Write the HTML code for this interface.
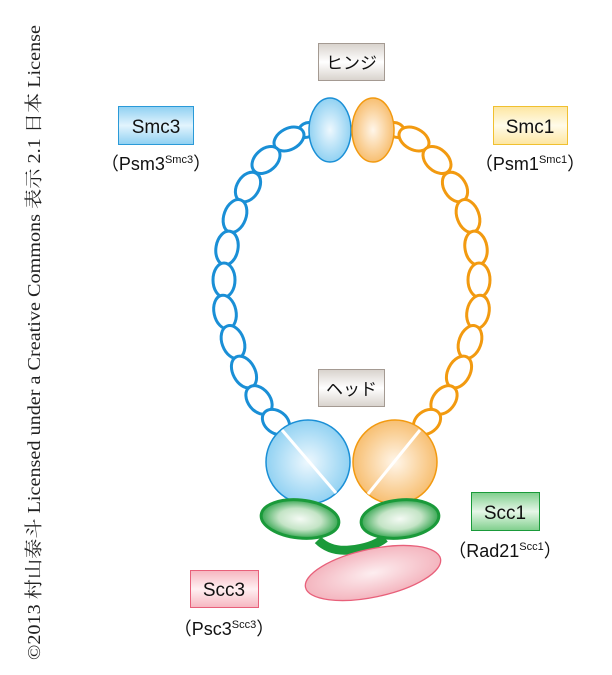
<!DOCTYPE html>
<html><head><meta charset="utf-8"><style>
body{margin:0;background:#fff;}
svg{display:block;}
text{font-family:"Liberation Sans","Noto Sans CJK JP",sans-serif;}
</style></head><body>
<svg width="612" height="675" viewBox="0 0 612 675" xmlns="http://www.w3.org/2000/svg">
<defs>
<radialGradient id="gb" cx="50%" cy="50%" r="60%"><stop offset="0" stop-color="#eef8fe"/><stop offset="1" stop-color="#7fcaf0"/></radialGradient>
<radialGradient id="go" cx="50%" cy="50%" r="60%"><stop offset="0" stop-color="#fff6ea"/><stop offset="1" stop-color="#f6b45a"/></radialGradient>
<radialGradient id="gg" cx="50%" cy="50%" r="55%"><stop offset="0" stop-color="#f4faf4"/><stop offset="0.5" stop-color="#c4e4c6"/><stop offset="1" stop-color="#1a9a3a"/></radialGradient>
<radialGradient id="gp" cx="50%" cy="50%" r="60%"><stop offset="0" stop-color="#fdeef0"/><stop offset="1" stop-color="#f2aab5"/></radialGradient>
<linearGradient id="lgray" x1="0" y1="0" x2="0" y2="1"><stop offset="0" stop-color="#d8d2cc"/><stop offset="0.5" stop-color="#ffffff"/><stop offset="1" stop-color="#d8d2cc"/></linearGradient>
<linearGradient id="lblue" x1="0" y1="0" x2="0" y2="1"><stop offset="0" stop-color="#8fd0f2"/><stop offset="0.5" stop-color="#e2f4fd"/><stop offset="1" stop-color="#8fd0f2"/></linearGradient>
<linearGradient id="lyel" x1="0" y1="0" x2="0" y2="1"><stop offset="0" stop-color="#fde6a0"/><stop offset="0.5" stop-color="#fffbea"/><stop offset="1" stop-color="#fde6a0"/></linearGradient>
<linearGradient id="lgrn" x1="0" y1="0" x2="0" y2="1"><stop offset="0" stop-color="#7fcf8c"/><stop offset="0.5" stop-color="#e6f6e8"/><stop offset="1" stop-color="#7fcf8c"/></linearGradient>
<linearGradient id="lpnk" x1="0" y1="0" x2="0" y2="1"><stop offset="0" stop-color="#f6b6c0"/><stop offset="0.5" stop-color="#fff0f2"/><stop offset="1" stop-color="#f6b6c0"/></linearGradient>
<g id="chain" fill="#fff" stroke-width="3">
<ellipse cx="307" cy="130" rx="9" ry="7" transform="rotate(-30 307 130)"/>
<ellipse cx="289" cy="139" rx="16" ry="10.5" transform="rotate(-28 289 139)"/>
<ellipse cx="266" cy="160" rx="16" ry="11" transform="rotate(-42 266 160)"/>
<ellipse cx="248" cy="187" rx="16" ry="11" transform="rotate(-58 248 187)"/>
<ellipse cx="235" cy="216" rx="17" ry="11" transform="rotate(-70 235 216)"/>
<ellipse cx="227" cy="248" rx="17" ry="11" transform="rotate(-80 227 248)"/>
<ellipse cx="224" cy="280" rx="17" ry="11" transform="rotate(90 224 280)"/>
<ellipse cx="225" cy="312" rx="17" ry="11" transform="rotate(78 225 312)"/>
<ellipse cx="233" cy="342" rx="17" ry="11" transform="rotate(70 233 342)"/>
<ellipse cx="244" cy="372" rx="17" ry="11" transform="rotate(62 244 372)"/>
<ellipse cx="259" cy="400" rx="16" ry="11" transform="rotate(52 259 400)"/>
<ellipse cx="276" cy="422" rx="15" ry="11" transform="rotate(38 276 422)"/>
</g>
</defs>
<text transform="translate(40,660) rotate(-90)" style="font-family:'Liberation Serif','Noto Serif CJK SC',serif" font-size="18" fill="#222" textLength="635" lengthAdjust="spacingAndGlyphs">©2013 村山泰斗 Licensed under a Creative Commons 表示 2.1 日本 License</text>

<use href="#chain" stroke="#1a8fd6"/>
<g transform="translate(703,0) scale(-1,1)"><use href="#chain" stroke="#f29a10"/></g>

<ellipse cx="330" cy="130" rx="21" ry="32" fill="url(#gb)" stroke="#1a8fd6" stroke-width="1.5"/>
<ellipse cx="373" cy="130" rx="21" ry="32" fill="url(#go)" stroke="#f29a10" stroke-width="1.5"/>

<path d="M318 540 Q330 552 350 550 Q372 548 385 538" fill="none" stroke="#1a9a3a" stroke-width="9"/>
<circle cx="308" cy="462" r="42" fill="url(#gb)" stroke="#1a8fd6" stroke-width="1.5"/>
<line x1="282" y1="430" x2="336" y2="493" stroke="#fff" stroke-width="3"/>
<circle cx="395" cy="462" r="42" fill="url(#go)" stroke="#f29a10" stroke-width="1.5"/>
<line x1="420" y1="430" x2="368" y2="494" stroke="#fff" stroke-width="3"/>
<ellipse cx="300" cy="519" rx="39" ry="19" fill="url(#gg)" stroke="#1a9a3a" stroke-width="3" transform="rotate(6 300 519)"/>
<ellipse cx="400" cy="519" rx="39" ry="19" fill="url(#gg)" stroke="#1a9a3a" stroke-width="3" transform="rotate(-6 400 519)"/>
<ellipse cx="373" cy="573" rx="69" ry="24" fill="url(#gp)" stroke="#e8607a" stroke-width="1.3" transform="rotate(-12 373 573)"/>

<rect x="318.5" y="43.5" width="66" height="37" fill="url(#lgray)" stroke="#a49a92"/>
<text x="351.5" y="69" font-size="17" text-anchor="middle" fill="#111">ヒンジ</text>
<rect x="318.5" y="369.5" width="66" height="37" fill="url(#lgray)" stroke="#a49a92"/>
<text x="351.5" y="395" font-size="17" text-anchor="middle" fill="#111">ヘッド</text>

<rect x="118.5" y="106.5" width="75" height="38" fill="url(#lblue)" stroke="#2a9ad8"/>
<text x="156" y="133" font-size="19" text-anchor="middle" fill="#111">Smc3</text>
<text x="156" y="170" font-size="18" text-anchor="middle" fill="#111">（Psm3<tspan font-size="11" dy="-7">Smc3</tspan><tspan dy="7">）</tspan></text>

<rect x="493.5" y="106.5" width="74" height="38" fill="url(#lyel)" stroke="#f0c030"/>
<text x="530" y="133" font-size="19" text-anchor="middle" fill="#111">Smc1</text>
<text x="530" y="170" font-size="18" text-anchor="middle" fill="#111">（Psm1<tspan font-size="11" dy="-7">Smc1</tspan><tspan dy="7">）</tspan></text>

<rect x="471.5" y="492.5" width="68" height="38" fill="url(#lgrn)" stroke="#1a9a3a"/>
<text x="505" y="519" font-size="19" text-anchor="middle" fill="#111">Scc1</text>
<text x="505" y="557" font-size="18" text-anchor="middle" fill="#111">（Rad21<tspan font-size="11" dy="-7">Scc1</tspan><tspan dy="7">）</tspan></text>

<rect x="190.5" y="570.5" width="68" height="37" fill="url(#lpnk)" stroke="#e8607a"/>
<text x="224" y="596" font-size="19" text-anchor="middle" fill="#111">Scc3</text>
<text x="224" y="635" font-size="18" text-anchor="middle" fill="#111">（Psc3<tspan font-size="11" dy="-7">Scc3</tspan><tspan dy="7">）</tspan></text>
</svg>
</body></html>
